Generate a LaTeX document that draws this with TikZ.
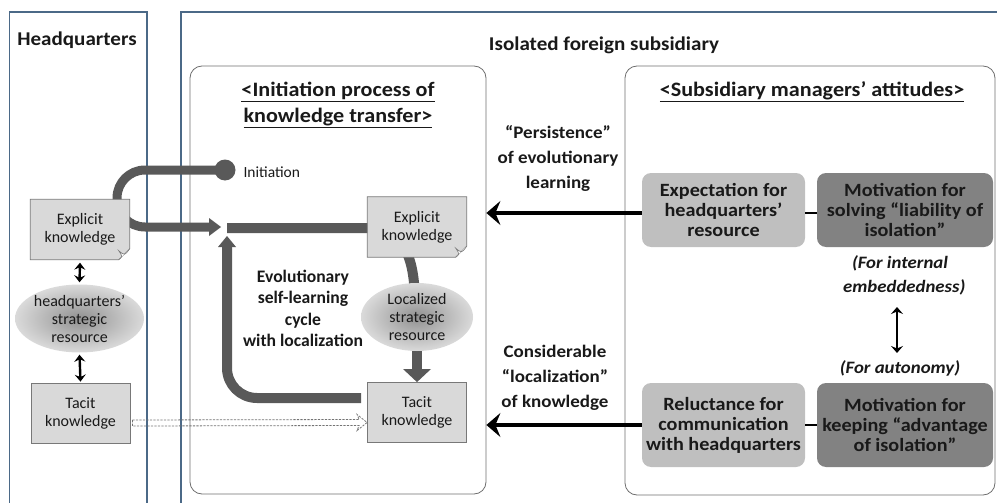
\documentclass[tikz,border=0pt]{standalone}
\usepackage{fontspec}
\setmainfont{Carlito}
\newfontfamily\wfont{Carlito}[FakeStretch=1.08]
\usetikzlibrary{arrows.meta,shapes.geometric,calc}
\pgfdeclarelayer{back}
\pgfdeclarelayer{mid}
\pgfsetlayers{back,mid,main}
\definecolor{frame}{RGB}{75,105,135}
\definecolor{pathg}{RGB}{89,89,89}
\definecolor{boxf}{RGB}{217,217,217}
\definecolor{boxd}{RGB}{120,120,120}
\definecolor{lightb}{RGB}{191,191,191}
\definecolor{darkb}{RGB}{130,130,130}
\definecolor{txt}{RGB}{25,25,25}
\definecolor{inner}{RGB}{110,110,110}
\tikzset{
  regtext/.style={font=\fontsize{16}{18}\selectfont, text=txt, align=center},
  boldtext/.style={font=\wfont\fontsize{17.6}{25}\selectfont\bfseries, text=txt, align=center},
  titletext/.style={font=\wfont\fontsize{20.5}{25.5}\selectfont\bfseries, text=txt, align=center},
  headtext/.style={font=\wfont\fontsize{19.5}{23}\selectfont\bfseries, text=txt},
  ittext/.style={font=\wfont\fontsize{17.4}{24}\selectfont\bfseries\itshape, text=txt, align=center},
  kbox/.style={regtext, minimum width=99pt, minimum height=60pt, inner sep=0pt},
  tacitbox/.style={kbox, draw=boxd, fill=boxf, line width=0.8pt},
  resell/.style={ellipse, regtext, inner sep=0pt, shading=radial, inner color={rgb,255:red,145;green,145;blue,145}, outer color={rgb,255:red,218;green,218;blue,218}},
  attbox/.style={font=\wfont\fontsize{18.7}{20}\selectfont\bfseries, text=txt, align=center, rounded corners=9pt, inner sep=0pt},
  thickp/.style={draw=pathg, line width=10pt},
  dblarr/.style={line width=2.4pt, {Stealth[length=7pt,width=11pt,inset=2.5pt]}-{Stealth[length=7pt,width=11pt,inset=2.5pt]}},
  bigarr/.style={line width=4pt, -{Stealth[length=14pt,width=24pt,inset=5pt]}},
  innerbox/.style={draw=inner, line width=0.8pt, rounded corners=12pt, inner sep=0pt},
}
\newcommand{\foldbox}[1]{%
  \draw[draw=boxd, fill=boxf, line width=0.8pt] (#1.north west) -- (#1.north east) -- ([yshift=11pt]#1.south east) -- ([xshift=-11pt]#1.south east) -- (#1.south west) -- cycle;
  \draw[draw=boxd, fill=white, line width=0.6pt] ([yshift=11pt]#1.south east) .. controls ([xshift=-5pt,yshift=4pt]#1.south east) .. ([xshift=-11pt,yshift=9pt]#1.south east) .. controls ([xshift=-7pt,yshift=3pt]#1.south east) .. ([xshift=-11pt]#1.south east);
}
\begin{document}
\begin{tikzpicture}[x=1pt,y=-1pt]
\useasboundingbox (0,0) rectangle (997,503);
% frames
\begin{pgfonlayer}{back}
\draw[frame, line width=1.6pt] (9.5,503) -- (9.5,12) -- (147,12) -- (147,503);
\draw[frame, line width=1.6pt] (181,503) -- (181,12) -- (997,12);
\node[innerbox, minimum width=296pt, minimum height=428pt] (box1) at (338,280) {};
\node[innerbox, minimum width=370pt, minimum height=429pt] (box2) at (810,280.5) {};
\end{pgfonlayer}
% titles
\node[headtext] (tHQ) at (77,40) {Headquarters};
\node[headtext] (tIso) at (604,45) {Isolated foreign subsidiary};
\node[titletext] (tInit) at (338,105) {\underline{<Initiation process of}\\\underline{knowledge transfer>}};
\node[titletext] (tSub) at (812,92) {\underline{<Subsidiary managers’ attitudes>}};
% HQ column
\node[kbox] (hqE) at (80,229.5) {Explicit\\knowledge};
\foldbox{hqE}
\node[regtext] at (hqE) {Explicit\\knowledge};
\node[resell, minimum width=124pt, minimum height=68pt] (hqR) at (79.5,318.5) {headquarters’\\strategic\\resource};
\node[tacitbox] (hqT) at (80.5,413) {Tacit\\knowledge};
\draw[dblarr] ([yshift=-3pt]hqE.south) -- ([yshift=2pt]hqR.north);
\draw[dblarr] ([yshift=-2pt]hqR.south) -- ([yshift=1pt]hqT.north);
% subsidiary knowledge
\node[kbox] (subE) at (417,227) {Explicit\\knowledge};
\foldbox{subE}
\node[regtext] at (subE) {Explicit\\knowledge};
\node[resell, minimum width=112pt, minimum height=68pt] (locR) at (417,317) {Localized\\strategic\\resource};
\node[tacitbox] (subT) at (417,412.5) {Tacit\\knowledge};
% initiation
\node[circle, fill=pathg, minimum size=21pt, inner sep=0pt] (circ) at (225,170) {};
\node[regtext, font=\fontsize{15.5}{18}\selectfont, anchor=west] (tIni) at (240,172) {Initiation};
\coordinate (jin) at (221,227);
\coordinate (jst) at (227,228);
\coordinate (jup) at (227,236);
\coordinate (cyc) at (361,398);
\begin{pgfonlayer}{mid}
\draw[thickp, line width=9pt, rounded corners=28pt] (circ.center) -- (117,170) -- (117,227) -- (209,227);
\fill[pathg] (jin) -- (209,218) -- (209,236) -- cycle;
\draw[thickp, rounded corners=30pt] (cyc) -- (227,398) -- (227,246);
\fill[pathg] (jup) -- (218,247) -- (236,247) -- cycle;
\draw[thickp] (jst) -- (365,228) .. controls (400,228) and (414,250) .. (415,300);
\draw[thickp] (locR.south) -- (417,369);
\fill[pathg] (subT.north) -- (403,369) -- (431,369) -- cycle;
\end{pgfonlayer}
\node[font=\fontsize{17.6}{21.5}\selectfont\bfseries, text=txt, align=center] (tEvo) at (303,308.5) {Evolutionary\\self-learning\\cycle\\with localization};
% dashed hollow arrow
\coordinate (da) at ([yshift=-10pt]hqT.east);
\coordinate (db) at ([yshift=-10pt]subT.west);
\draw[black!55, line width=0.8pt, dash pattern=on 2.2pt off 1.3pt] ($(da)+(2,-3)$) -- ($(db)+(-8,-3)$) -- ($(db)+(-10,-8)$) -- (db) -- ($(db)+(-10,8)$) -- ($(db)+(-8,3)$) -- ($(da)+(2,3)$) -- cycle;
% attitudes
\node[attbox, fill=lightb, minimum width=163pt, minimum height=74pt] (exp) at (723.5,210) {Expectation for\\headquarters’\\resource};
\node[attbox, fill=darkb, minimum width=176pt, minimum height=74pt] (mot1) at (905,210) {Motivation for\\solving “liability of\\isolation”};
\node[attbox, fill=lightb, minimum width=163pt, minimum height=84pt] (rel) at (723.5,425) {Reluctance for\\communication\\with headquarters};
\node[attbox, fill=darkb, minimum width=176pt, minimum height=84pt] (mot2) at (905,425) {Motivation for\\keeping “advantage\\of isolation”};
\draw[line width=2.5pt, black] ([yshift=-3pt]exp.east) -- ([yshift=-3pt]mot1.west);
\draw[line width=2.5pt, black] (rel.east) -- (mot2.west);
\node[ittext] (tInt) at (900,275) {(For internal\\\ \ embeddedness)};
\node[ittext] (tAut) at (900,368) {(For autonomy)};
\draw[line width=2.4pt, {Stealth[length=7pt,width=12pt,inset=2.5pt]}-{Stealth[length=7pt,width=12pt,inset=2.5pt]}] (897,307) -- (897,353);
\node[boldtext] (tPers) at (558,158) {“Persistence”\\of evolutionary\\learning};
\node[boldtext] (tCons) at (555,378) {Considerable\\“localization”\\of knowledge};
\draw[bigarr] ([yshift=-3pt]exp.west) -- ([yshift=-3pt]exp.west -| box1.east);
\draw[bigarr] (rel.west) -- (rel.west -| box1.east);
\end{tikzpicture}
\end{document}
